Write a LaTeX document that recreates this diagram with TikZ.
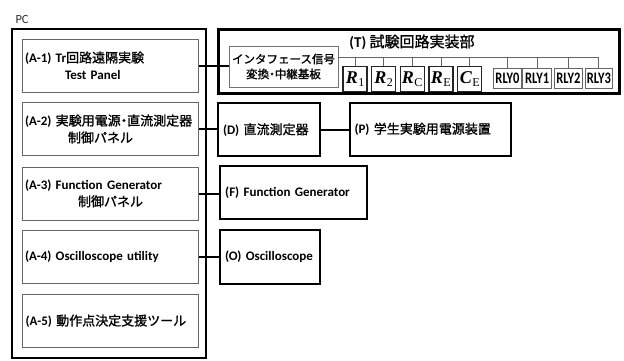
\documentclass[tikz,border=0pt]{standalone}
\usepackage{fontspec}
\setmainfont{Carlito}
\newfontfamily\jpfont{Noto Sans CJK JP}[BoldFont=*, BoldFeatures={FakeBold=1.2}]
\newfontfamily\sbi{Liberation Serif}
\newcommand\jptxt[1]{{\jpfont\bfseries #1}}
\newcommand\jpmed[1]{{\jpfont\bfseries #1}}
\newcommand\ndot{\kern-0.25em・\kern-0.25em}
\newcommand\rsym[2]{{\sbi\bfseries\itshape #1}\kern0.5pt\raisebox{-0.3ex}{\fontsize{12}{12}\selectfont\sbi #2}}
\begin{document}
\begin{tikzpicture}[x=1pt,y=-1pt,
  outerbox/.style={draw=black, line width=2pt, rectangle, inner sep=0pt},
  abox/.style={draw=black!60, line width=1pt, rectangle, minimum width=176pt, minimum height=53pt,
     text width=170pt, align=left, inner xsep=3pt, inner ysep=0pt, font=\fontsize{13}{17}\selectfont\bfseries},
  rbox/.style={draw=black, line width=2pt, rectangle, minimum height=53pt, align=left,
     inner xsep=5pt, inner ysep=0pt, font=\fontsize{13}{15}\selectfont\bfseries},
  conn/.style={draw=black, line width=2pt},
  bus/.style={draw=black!60, line width=0.8pt},
  rsmall/.style={draw=black!85, line width=1.3pt, rectangle, minimum width=24pt, minimum height=25pt,
     inner sep=0pt, font=\fontsize{18}{18}\selectfont},
  rly/.style={draw=black!60, line width=0.8pt, rectangle, minimum height=20pt, inner sep=0pt,
     font=\fontsize{16}{16}\selectfont\bfseries}
]
\useasboundingbox (0,0) rectangle (624,360);

% PC side
\node[anchor=west, font=\fontsize{12.5}{12}\selectfont, text=black!80] (pclabel) at (12,19) {PC};
\node[outerbox, minimum width=194pt, minimum height=329pt] (pc) at (109,193.5) {};
\node[abox] (a1) at (110,65.5) {(A-1) Tr\jptxt{回路遠隔実験}\\\hspace*{40pt}Test Panel};
\node[abox] (a2) at (110,129) {\mbox{(A-2) \jptxt{実験用電源\ndot 直流測定器}}\\\hspace*{43pt}\jptxt{制御パネル}};
\node[abox] (a3) at (110,193.5) {(A-3) Function Generator\\\hspace*{53pt}\jptxt{制御パネル}};
\node[abox] (a4) at (110,256.5) {(A-4) Oscilloscope utility};
\node[abox] (a5) at (110.5,321) {(A-5) \jptxt{動作点決定支援ツール}};

% Test circuit block
\node[outerbox, line width=2.5pt, minimum width=401pt, minimum height=64pt] (tbox) at (419,61.5) {};
\node[font=\fontsize{15}{15}\selectfont\bfseries] (ttitle) at (412,42) {(T) \jpmed{試験回路実装部}};
\node[draw=black!55, line width=0.9pt, rectangle, minimum width=109pt, minimum height=41pt,
      inner sep=0pt, align=center, font=\fontsize{11.5}{15}\selectfont] (iface) at (283.5,66.5)
      {\jpmed{インタフェース信号}\\\jpmed{変換\ndot 中継基板}};

\node[rsmall] (r1) at (355,79) {\rsym{R}{1}};
\node[rsmall] (r2) at (383.7,79) {\rsym{R}{2}};
\node[rsmall] (rc) at (412.2,79) {\rsym{R}{C}};
\node[rsmall] (re) at (440.9,79) {\rsym{R}{E}};
\node[rsmall] (ce) at (469.7,79) {\rsym{C}{E}};
\node[rly, minimum width=28.5pt] (rly0) at (507.5,78.3) {\scalebox{0.78}[1]{RLY0}};
\node[rly, minimum width=29pt] (rly1) at (537.2,78.3) {\scalebox{0.78}[1]{RLY1}};
\node[rly, minimum width=28.7pt] (rly2) at (568.3,78.3) {\scalebox{0.78}[1]{RLY2}};
\node[rly, minimum width=27.7pt] (rly3) at (598.8,78.3) {\scalebox{0.78}[1]{RLY3}};

\coordinate (busend) at (598.8,57.3);
\draw[bus] (iface.east |- busend) -- (busend);
\foreach \n in {r1,r2,rc,re,ce,rly0,rly1,rly2,rly3}
  \draw[bus] (\n.north) -- (\n.north |- busend);

% instruments
\node[rbox, minimum width=102pt, text width=92pt] (dmeter) at (269,129.7) {(D) \jpmed{直流測定器}};
\node[rbox, minimum width=161pt, text width=151pt] (psu) at (430,129.2) {(P) \jpmed{学生実験用電源装置}};
\node[rbox, minimum width=147pt, text width=137pt] (fgen) at (293.7,192.7) {(F) Function Generator};
\node[rbox, minimum width=100pt, text width=90pt, minimum height=54pt] (osc) at (270,257) {(O) Oscilloscope};

% connectors
\draw[conn] (a1.east) -- (a1.east -| iface.west);
\draw[conn] (a2.east) -- (a2.east -| dmeter.west);
\draw[conn] (dmeter.east) -- (dmeter.east -| psu.west);
\draw[conn] (a3.east) -- (a3.east -| fgen.west);
\draw[conn] (a4.east) -- (a4.east -| osc.west);
\end{tikzpicture}
\end{document}
